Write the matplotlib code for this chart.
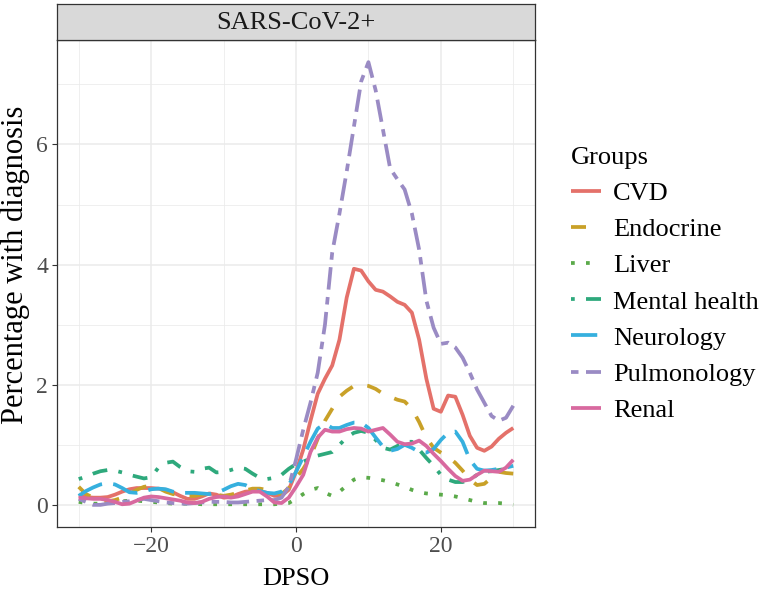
import matplotlib.pyplot as plt
import numpy as np

# days post symptom onset
dpso = np.arange(-30, 31)

groups = ['CVD', 'Endocrine', 'Liver', 'Mental health', 'Neurology', 'Pulmonology', 'Renal']

cvd = [0.15, 0.13, 0.12, 0.12, 0.13, 0.17, 0.22, 0.26, 0.28, 0.28,
       0.28, 0.27, 0.25, 0.21, 0.15, 0.10, 0.10, 0.14, 0.19, 0.17,
       0.12, 0.13, 0.18, 0.22, 0.23, 0.23, 0.20, 0.15, 0.15, 0.25,
       0.55, 0.92, 1.40, 1.85, 2.10, 2.32, 2.75, 3.45, 3.93, 3.90,
       3.72, 3.58, 3.55, 3.47, 3.38, 3.33, 3.20, 2.75, 2.10, 1.60,
       1.55, 1.82, 1.80, 1.50, 1.15, 0.95, 0.90, 0.97, 1.10, 1.20,
       1.28]
endocrine = [0.30, 0.18, 0.12, 0.08, 0.06, 0.08, 0.12, 0.18, 0.25, 0.30,
             0.32, 0.28, 0.22, 0.18, 0.16, 0.15, 0.15, 0.17, 0.18, 0.17,
             0.15, 0.17, 0.20, 0.24, 0.27, 0.27, 0.25, 0.20, 0.18, 0.28,
             0.45, 0.60, 0.80, 1.10, 1.40, 1.60, 1.80, 1.90, 1.98, 2.00,
             1.98, 1.93, 1.85, 1.80, 1.75, 1.72, 1.60, 1.38, 1.12, 0.95,
             0.87, 0.80, 0.70, 0.57, 0.42, 0.33, 0.35, 0.45, 0.55, 0.53,
             0.52]
liver = [0.05, 0.03, 0.02, 0.02, 0.03, 0.04, 0.06, 0.07, 0.07, 0.06,
         0.05, 0.04, 0.03, 0.02, 0.02, 0.02, 0.02, 0.01, 0.01, 0.01,
         0.01, 0.01, 0.01, 0.01, 0.01, 0.01, 0.01, 0.01, 0.02, 0.03,
         0.10, 0.18, 0.25, 0.28, 0.20, 0.15, 0.22, 0.32, 0.42, 0.46,
         0.45, 0.43, 0.41, 0.38, 0.34, 0.30, 0.25, 0.21, 0.19, 0.18,
         0.17, 0.16, 0.14, 0.11, 0.08, 0.05, 0.03, 0.03, 0.03, 0.02,
         0.00]
mental_health = [0.43, 0.47, 0.52, 0.56, 0.58, 0.57, 0.54, 0.50, 0.47, 0.44,
                 0.46, 0.62, 0.70, 0.72, 0.63, 0.56, 0.55, 0.60, 0.62, 0.54,
                 0.55, 0.58, 0.62, 0.60, 0.52, 0.45, 0.43, 0.45, 0.50, 0.60,
                 0.68, 0.72, 0.77, 0.82, 0.85, 0.88, 1.00, 1.12, 1.20, 1.23,
                 1.20, 1.08, 0.95, 0.92, 0.98, 1.05, 1.05, 0.92, 0.78, 0.65,
                 0.50, 0.42, 0.38, 0.38, 0.42, 0.50, 0.55, 0.56, 0.58, 0.60,
                 0.65]
neurology = [0.15, 0.23, 0.29, 0.34, 0.36, 0.34, 0.28, 0.21, 0.20, 0.22,
             0.26, 0.27, 0.26, 0.22, 0.20, 0.20, 0.20, 0.19, 0.18, 0.20,
             0.25, 0.31, 0.35, 0.33, 0.27, 0.23, 0.20, 0.19, 0.22, 0.33,
             0.55, 0.80, 1.05, 1.27, 1.35, 1.28, 1.28, 1.33, 1.37, 1.37,
             1.28, 1.12, 0.97, 0.90, 0.93, 1.00, 0.95, 0.88, 0.87, 0.93,
             1.08, 1.20, 1.22, 1.05, 0.75, 0.60, 0.57, 0.58, 0.60, 0.62,
             0.65]
pulmonology = [0.10, 0.05, 0.00, 0.00, 0.02, 0.03, 0.05, 0.06, 0.08, 0.10,
               0.08, 0.06, 0.04, 0.03, 0.02, 0.02, 0.03, 0.04, 0.05, 0.05,
               0.05, 0.04, 0.04, 0.05, 0.06, 0.07, 0.08, 0.08, 0.12, 0.30,
               0.75, 1.25, 1.70, 2.20, 3.00, 4.20, 4.85, 5.55, 6.30, 7.05,
               7.37, 6.90, 6.25, 5.60, 5.42, 5.25, 4.85, 4.25, 3.40, 2.95,
               2.68, 2.70, 2.62, 2.45, 2.20, 1.92, 1.70, 1.48, 1.40, 1.45,
               1.65]
renal = [0.12, 0.11, 0.10, 0.10, 0.08, 0.05, 0.01, 0.02, 0.07, 0.12,
         0.14, 0.13, 0.11, 0.09, 0.07, 0.04, 0.03, 0.05, 0.10, 0.13,
         0.14, 0.12, 0.14, 0.18, 0.22, 0.22, 0.14, 0.04, 0.03, 0.12,
         0.30, 0.50, 0.88, 1.12, 1.25, 1.22, 1.22, 1.26, 1.28, 1.27,
         1.22, 1.25, 1.28, 1.17, 1.05, 1.01, 1.02, 1.07, 0.98, 0.85,
         0.73, 0.60, 0.48, 0.40, 0.42, 0.50, 0.57, 0.56, 0.55, 0.62,
         0.75]

series = [cvd, endocrine, liver, mental_health, neurology, pulmonology, renal]
colors = ['#E4716A', '#C9A128', '#5BAA4A', '#2EA97C', '#36B0DE', '#9A8BC4', '#D8699F']
# R linetypes: solid, dashed, dotted, dotdash, longdash, twodash, solid
dashes = [None, (4, 4), (1, 3), (1, 3, 4, 3), (7, 3), (2, 2, 6, 2), None]

plt.rcParams['font.family'] = ['Liberation Serif', 'DejaVu Serif']

fig = plt.figure(figsize=(7.64, 5.96), dpi=100)
W, H = 764, 596
ax = fig.add_axes([57 / W, (H - 527) / H, (535 - 57) / W, (527 - 40) / H])

for name, vals, col, ds in zip(groups, series, colors, dashes):
    line, = ax.plot(dpso, vals, color=col, lw=2.7, label=name,
                    solid_capstyle='butt', dash_capstyle='butt',
                    solid_joinstyle='round')
    if ds is not None:
        line.set_dashes(ds)

# ggplot-style 5% expansion
xr = dpso.max() - dpso.min()
ax.set_xlim(dpso.min() - 0.05 * xr, dpso.max() + 0.05 * xr)
ymax = max(max(s) for s in series)
ax.set_ylim(-0.05 * ymax, ymax * 1.05)

ax.set_xticks([-20, 0, 20])
ax.set_xticks([-30, -10, 10, 30], minor=True)
ax.set_xticklabels(['\u221220', '0', '20'])
ax.set_yticks([0, 2, 4, 6])
ax.set_yticks([1, 3, 5, 7], minor=True)

ax.grid(True, which='major', color='#EBEBEB', lw=1.1)
ax.grid(True, which='minor', color='#EBEBEB', lw=0.55)
ax.set_axisbelow(True)
for sp in ax.spines.values():
    sp.set_color('#333333')
    sp.set_linewidth(0.9)
ax.tick_params(which='major', length=3.5, width=0.8, color='#333333',
               labelsize=17, labelcolor='#4D4D4D', pad=3)
ax.tick_params(which='minor', length=0)

ax.set_xlabel('DPSO', fontsize=19, labelpad=8)
# y title centred on panel + strip, as in the facet layout
fig.text(15 / W, (H - 265) / H, 'Percentage with diagnosis', rotation=90,
         ha='center', va='center', fontsize=22)

# facet strip
sx = fig.add_axes([57 / W, (H - 40) / H, (535 - 57) / W, 36 / H])
sx.set_facecolor('#D9D9D9')
sx.set_xticks([])
sx.set_yticks([])
for sp in sx.spines.values():
    sp.set_color('#333333')
    sp.set_linewidth(0.9)
sx.text(0.5, 0.47, 'SARS-CoV-2+', ha='center', va='center', fontsize=19,
        color='#1A1A1A', transform=sx.transAxes)

leg = fig.legend(loc='upper left', bbox_to_anchor=(571 / W, (H - 147) / H),
                 frameon=False, title='Groups', alignment='left',
                 fontsize=19, title_fontsize=19, handlelength=1.15,
                 handletextpad=0.45, labelspacing=0.48, borderpad=0,
                 borderaxespad=0)

fig.savefig('out.png', dpi=100)
